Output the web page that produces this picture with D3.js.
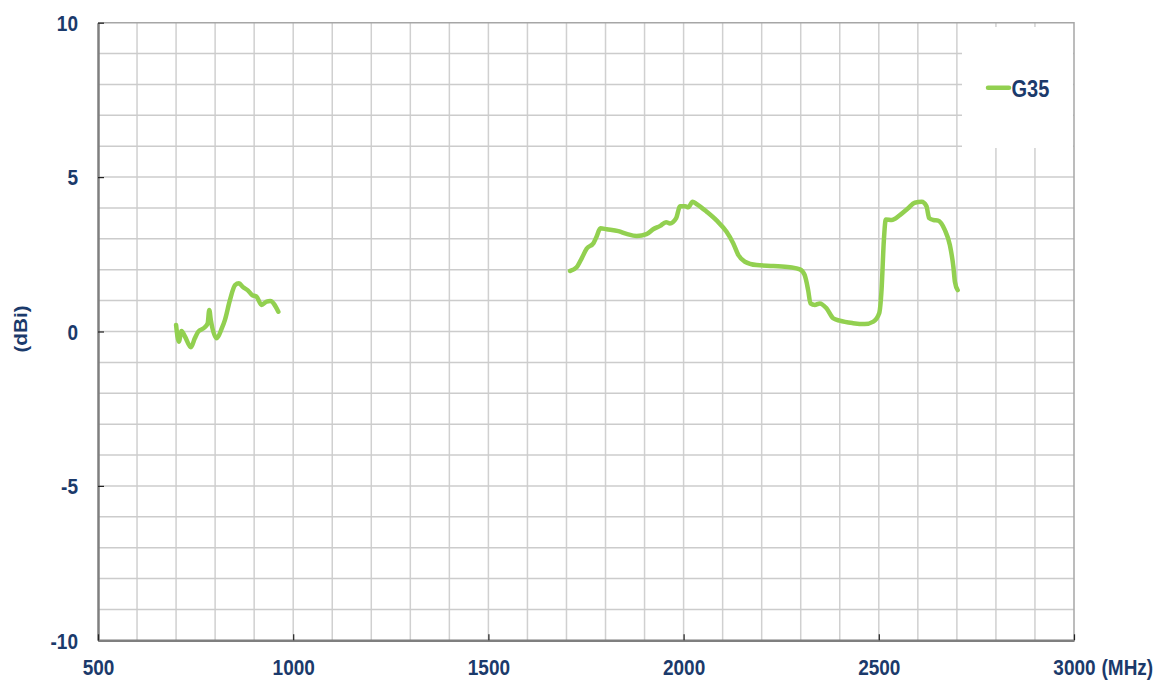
<!DOCTYPE html>
<html lang="en">
<head>
    <meta charset="UTF-8">
    <title>G35 gain</title>
    <script src="https://d3js.org/d3.v7.min.js"></script>
    <style>
        body {margin: 0; background: white;}
        svg {display: block;}
    </style>
</head>
<body>
<script>
    const width = 1155;
    const height = 681;

    // series values (null = gap between bands)
    const freq = [700, 707, 714, 723, 738, 748, 757, 774, 781, 785, 789, 804, 817, 825, 838, 851, 861, 872, 883, 895, 906, 919, 932, 941, 962,
        null,
        1709, 1726, 1739, 1752, 1769, 1777, 1787, 1803, 1833, 1854, 1880, 1905, 1922, 1940, 1955, 1965, 1981, 1991, 2004, 2012, 2023, 2033,
        2059, 2085, 2110, 2127, 2140, 2157, 2187, 2230, 2272, 2298, 2310, 2319, 2325, 2336, 2349, 2366, 2383, 2400, 2434, 2464, 2486,
        2501, 2507, 2513, 2518, 2533, 2554, 2575, 2592, 2610, 2622, 2629, 2640, 2652, 2669, 2682, 2691, 2695, 2702];
    const gain = [0.21, -0.33, 0.02, -0.17, -0.51, -0.22, 0, 0.14, 0.27, 0.7, 0.37, -0.22, 0.1, 0.37, 1.02, 1.5, 1.56, 1.43, 1.34, 1.18, 1.13, 0.86, 0.97, 0.99, 0.64,
        null,
        1.96, 2.08, 2.37, 2.69, 2.86, 3.07, 3.34, 3.31, 3.25, 3.16, 3.09, 3.15, 3.31, 3.42, 3.54, 3.5, 3.67, 4.06, 4.06, 4.02, 4.2, 4.13,
        3.88, 3.59, 3.23, 2.86, 2.48, 2.26, 2.15, 2.12, 2.08, 2.01, 1.83, 1.34, 0.91, 0.86, 0.91, 0.75, 0.43, 0.35, 0.27, 0.24, 0.32,
        0.59, 1.34, 2.96, 3.63, 3.61, 3.77, 3.99, 4.17, 4.2, 4.06, 3.67, 3.61, 3.59, 3.29, 2.8, 2.1, 1.61, 1.34];
    const seriesName = "G35";

    const xTicks = [500, 1000, 1500, 2000, 2500, 3000];
    const yTicks = [-10, -5, 0, 5, 10];
    const xUnit = "(MHz)";
    const yUnit = "(dBi)";

    const navy = "#1b3a6b";
    const green = "#92d050";
    const font = "'Liberation Sans', Arial, sans-serif";

    const margin = {top: 22.7, right: 81, bottom: 40.7, left: 98};
    const x = d3.scaleLinear().domain([500, 3000]).range([margin.left, width - margin.right]);
    const y = d3.scaleLinear().domain([-10, 10]).range([height - margin.bottom, margin.top]);

    const svg = d3.select("body").append("svg")
            .attr("width", width).attr("height", height);

    // grid
    svg.append("g").selectAll("line")
            .data(d3.range(600, 3000, 100)).enter().append("line")
            .attr("x1", d => x(d)).attr("x2", d => x(d))
            .attr("y1", y(10)).attr("y2", y(-10))
            .attr("stroke", "#d0d0d0").attr("stroke-width", 1.5);
    svg.append("g").selectAll("line")
            .data(d3.range(-9, 10, 1)).enter().append("line")
            .attr("x1", x(500)).attr("x2", x(3000))
            .attr("y1", d => y(d)).attr("y2", d => y(d))
            .attr("stroke", "#cccccc").attr("stroke-width", 1.5);

    // legend box hides the grid
    svg.append("rect")
            .attr("x", 962).attr("y", 27).attr("width", x(3000) - 963).attr("height", 121)
            .attr("fill", "white");

    // plot border
    svg.append("path")
            .attr("d", `M${x(500)},${y(10)}H${x(3000)}V${y(-10)}`)
            .attr("fill", "none").attr("stroke", "#a6a6a6").attr("stroke-width", 1.5);

    // axes
    const plain = d => String(d);
    const yAxis = svg.append("g")
            .attr("transform", `translate(${x(500)},0)`)
            .call(d3.axisLeft(y).tickValues(yTicks).tickFormat(plain)
                    .tickSize(-6).tickPadding(20).tickSizeOuter(0));
    const xAxis = svg.append("g")
            .attr("transform", `translate(0,${y(-10)})`)
            .call(d3.axisBottom(x).tickValues(xTicks).tickFormat(plain)
                    .tickSize(-6).tickSizeOuter(0));

    [yAxis, xAxis].forEach(g => {
        g.select(".domain").attr("stroke", "#7f7f7f").attr("stroke-width", 2.5);
        g.selectAll(".tick line").attr("stroke", "#222").attr("stroke-width", 1.2);
        g.selectAll(".tick text")
                .attr("fill", navy)
                .style("font-family", font).style("font-size", "19px").style("font-weight", "bold");
    });
    yAxis.selectAll(".tick text")
            .attr("y", 0).attr("dy", 0)
            .attr("transform", "translate(0,7.8) scale(1,1.15)");
    xAxis.selectAll(".tick text")
            .attr("y", 0).attr("dy", 0)
            .attr("transform", "translate(0,34.7) scale(1,1.15)");

    // unit labels
    svg.append("text")
            .attr("transform", `translate(1101.5,675) scale(1,1.15)`)
            .attr("fill", navy)
            .style("font-family", font).style("font-size", "19px").style("font-weight", "bold")
            .text(xUnit);
    svg.append("text")
            .attr("transform", "translate(27,329) scale(1,1.15) rotate(-90)")
            .attr("text-anchor", "middle")
            .attr("fill", navy)
            .style("font-family", font).style("font-size", "18px").style("font-weight", "bold")
            .text(yUnit);

    // series line
    const points = freq.map((f, i) => [f, gain[i]]);
    const line = d3.line()
            .defined(d => d[0] !== null && d[1] !== null)
            .x(d => x(d[0])).y(d => y(d[1]))
            .curve(d3.curveMonotoneX);
    svg.append("path")
            .datum(points)
            .attr("d", line)
            .attr("fill", "none")
            .attr("stroke", green).attr("stroke-width", 4.5)
            .attr("stroke-linejoin", "round").attr("stroke-linecap", "round");

    // legend
    svg.append("line")
            .attr("x1", 988).attr("x2", 1009).attr("y1", 87.7).attr("y2", 87.7)
            .attr("stroke", green).attr("stroke-width", 4.5).attr("stroke-linecap", "round");
    svg.append("text")
            .attr("transform", "translate(1011.5,96.7) scale(1,1.2)")
            .attr("fill", navy)
            .style("font-family", font).style("font-size", "20px").style("font-weight", "bold")
            .text(seriesName);
</script>
</body>
</html>
